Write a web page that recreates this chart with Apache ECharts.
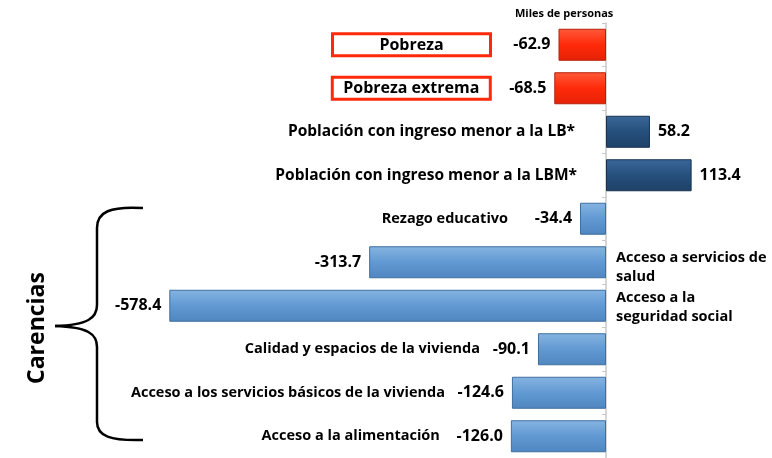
<!DOCTYPE html>
<html>
<head>
<meta charset="utf-8">
<script src="https://cdn.jsdelivr.net/npm/echarts@6/dist/echarts.min.js"></script>
<style>
    html, body {margin: 0; padding: 0; background: #fff;}
    #main {width: 772px; height: 458px;}
</style>
</head>
<body>
<div id="main"></div>
<script>
// categorias, de arriba hacia abajo
const categories = [
    'Pobreza',
    'Pobreza extrema',
    'Población con ingreso menor a la LB*',
    'Población con ingreso menor a la LBM*',
    'Rezago educativo',
    'Acceso a servicios de\nsalud',
    'Acceso a la\nseguridad social',
    'Calidad y espacios de la vivienda',
    'Acceso a los servicios básicos de la vivienda',
    'Acceso a la alimentación'
];
// miles de personas
const values = [-62.9, -68.5, 58.2, 113.4, -34.4, -313.7, -578.4, -90.1, -124.6, -126.0];
const groups = ['pobreza', 'pobreza', 'ingreso', 'ingreso', 'carencia', 'carencia', 'carencia', 'carencia', 'carencia', 'carencia'];

const FONT = '"Open Sans"';

function grad(top, mid, bottom) {
    return new echarts.graphic.LinearGradient(0, 0, 0, 1, [
        {offset: 0, color: top},
        {offset: 0.5, color: mid},
        {offset: 1, color: bottom}
    ]);
}

const groupStyle = {
    pobreza: {color: grad('#ff5a3a', '#ff2a0a', '#e52205'), borderColor: '#b8200a'},
    ingreso: {color: grad('#3a689a', '#264f7c', '#1f4268'), borderColor: '#17324f'},
    carencia: {color: grad('#86b4e2', '#6199d2', '#4f86bf'), borderColor: '#3f6f9f'}
};

// donde va el nombre de cada categoria
const nameLayout = [
    {position: 'left', distance: 68, box: true},
    {position: 'left', distance: 64, box: true},
    {position: 'left', distance: 31, size: 15.5},
    {position: 'left', distance: 29, size: 15.5},
    {position: 'left', distance: 72},
    {position: 'right', distance: 10, offset: [0, 5]},
    {position: 'right', distance: 10, offset: [0, 2]},
    {position: 'left', distance: 58},
    {position: 'left', distance: 67},
    {position: 'left', distance: 71}
];

let barData = values.map(function (v, i) {
    let st = groupStyle[groups[i]];
    return {
        value: v,
        itemStyle: {color: st.color, borderColor: st.borderColor, borderWidth: 1},
        label: {position: v < 0 ? 'left' : 'right'}
    };
});

let nameData = values.map(function (v, i) {
    let lay = nameLayout[i];
    let label = {
        show: true,
        position: lay.position,
        distance: lay.distance,
        offset: lay.offset || [0, 0],
        align: lay.position === 'right' ? 'left' : 'right',
        fontSize: lay.size || 14.5,
        lineHeight: 19,
        formatter: function () {
            return lay.box ? '{b|' + categories[i] + '}' : categories[i];
        }
    };
    if (lay.box) {
        label.borderColor = '#ff2a0a';
        label.borderWidth = 3;
        label.padding = [1, 4, 0, 4];
        label.rich = {
            b: {width: 150, align: 'center', fontFamily: FONT, fontWeight: 'bold', fontSize: 16, color: '#000', lineHeight: 21}
        };
    }
    return {value: v, label: label};
});

// llave de "Carencias"
function curve(x1, y1, cpx1, cpy1, cpx2, cpy2, x2, y2) {
    return {
        type: 'bezierCurve',
        shape: {x1: x1, y1: y1, cpx1: cpx1, cpy1: cpy1, cpx2: cpx2, cpy2: cpy2, x2: x2, y2: y2},
        style: {stroke: '#000', lineWidth: 2.5, fill: null}
    };
}

function seg(x1, y1, x2, y2) {
    return {
        type: 'line',
        shape: {x1: x1, y1: y1, x2: x2, y2: y2},
        style: {stroke: '#000', lineWidth: 2.5}
    };
}

let myChart = echarts.init(document.getElementById('main'));

let option = {
    animation: false,
    grid: {left: 77.5, right: 15, top: 23, height: 440},
    xAxis: {type: 'value', min: -700, max: 200, show: false},
    yAxis: {
        type: 'category',
        inverse: true,
        data: categories,
        axisLabel: {show: false},
        axisLine: {lineStyle: {color: '#c8c8c8', width: 1.5}},
        axisTick: {show: true, length: 4, lineStyle: {color: '#c8c8c8'}}
    },
    series: [
        {
            name: 'valores',
            type: 'bar',
            barWidth: 32,
            data: barData,
            label: {
                show: true,
                distance: 8,
                fontFamily: FONT,
                fontWeight: 'bold',
                fontSize: 16,
                color: '#000',
                formatter: function (p) {
                    return p.value.toFixed(1);
                }
            },
            z: 3
        },
        {
            name: 'nombres',
            type: 'bar',
            barWidth: 32,
            barGap: '-100%',
            silent: true,
            itemStyle: {color: 'rgba(0,0,0,0)'},
            data: nameData,
            label: {
                fontFamily: FONT,
                fontWeight: 'bold',
                color: '#000'
            },
            z: 4
        }
    ],
    graphic: [
        {
            type: 'text',
            x: 515,
            y: 8,
            style: {text: 'Miles de personas', font: 'bold 11px ' + FONT, fill: '#000'}
        },
        {
            type: 'text',
            x: 37,
            y: 328,
            rotation: Math.PI / 2,
            style: {
                text: 'Carencias',
                font: 'bold 23px ' + FONT,
                fill: '#000',
                align: 'center',
                verticalAlign: 'middle'
            }
        },
        curve(143, 208, 110, 206, 97, 212, 97, 228),
        seg(97, 228, 97, 305),
        curve(97, 305, 97, 318, 88, 325, 55, 326),
        curve(55, 326, 88, 327, 97, 334, 97, 347),
        seg(97, 347, 97, 422),
        curve(97, 422, 97, 436, 110, 441, 143, 440)
    ]
};

myChart.setOption(option);
</script>
</body>
</html>
